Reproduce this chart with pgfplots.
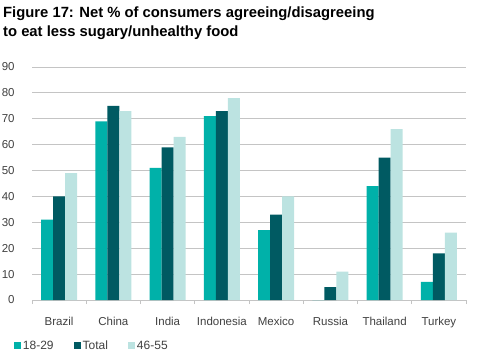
\documentclass[border=0pt]{standalone}
\usepackage{pgfplots}
\pgfplotsset{compat=1.18}
\usepackage{fontspec}
\setmainfont{Liberation Sans}
\definecolor{cA}{HTML}{00B1A9}
\definecolor{cB}{HTML}{005A62}
\definecolor{cC}{HTML}{BCE3E1}
\definecolor{gridc}{HTML}{C4C4C4}
\definecolor{txt}{HTML}{404040}
\begin{document}
\begin{tikzpicture}[x=1bp,y=1bp]
\useasboundingbox (0,0) rectangle (483,357);
\begin{axis}[
  at={(32bp,57bp)}, anchor=south west,
  scale only axis, width=434bp, height=233bp,
  ybar=0pt, bar width=12bp,
  xmin=-0.5, xmax=7.5, ymin=0, ymax=90,
  ytick={0,10,...,90},
  xtick={0,...,7},
  xticklabels={Brazil,China,India,Indonesia,Mexico,Russia,Thailand,Turkey},
  minor xtick={-0.5,0.5,...,7.5},
  axis lines*=left,
  y axis line style={draw=none},
  x axis line style={draw=gridc, line width=0.8bp},
  ymajorgrids, grid style={draw=gridc, line width=0.8bp},
  major x tick style={draw=none},
  ytick style={draw=none},
  minor x tick style={draw=gridc, line width=0.8bp},
  minor tick length=4bp, tick align=outside,
  /pgf/number format/assume math mode=true,
  tick label style={font=\fontsize{11.5bp}{13bp}\selectfont, text=txt},
  yticklabel style={anchor=east, inner sep=0pt, xshift=-13bp},
  xticklabel style={anchor=base, inner sep=0pt, yshift=-21bp},
  legend columns=3,
  legend style={at={(-0.0415,-0.197)}, anchor=west, draw=none, fill=none,
    font=\fontsize{12bp}{14bp}\selectfont, text=txt,
    /tikz/every even column/.append style={column sep=18bp},
    inner sep=0pt, outer sep=0pt},
  legend image code/.code={\fill[#1] (0bp,-3.5bp) rectangle (7bp,3.5bp);},
]
\addplot[fill=cA, draw=none] coordinates {(0,31) (1,69) (2,51) (3,71) (4,27) (5,0) (6,44) (7,7)};
\addplot[fill=cB, draw=none] coordinates {(0,40) (1,75) (2,59) (3,73) (4,33) (5,5) (6,55) (7,18)};
\addplot[fill=cC, draw=none] coordinates {(0,49) (1,73) (2,63) (3,78) (4,40) (5,11) (6,66) (7,26)};
\legend{18-29,Total,46-55}
\end{axis}
\node[anchor=base west, inner sep=0pt, font=\bfseries\fontsize{14.8bp}{18bp}\selectfont] at (3,340) {Figure 17: Net \% of consumers agreeing/disagreeing};
\node[anchor=base west, inner sep=0pt, font=\bfseries\fontsize{14.8bp}{18bp}\selectfont] at (3,321) {to eat less sugary/unhealthy food};
\end{tikzpicture}
\end{document}
